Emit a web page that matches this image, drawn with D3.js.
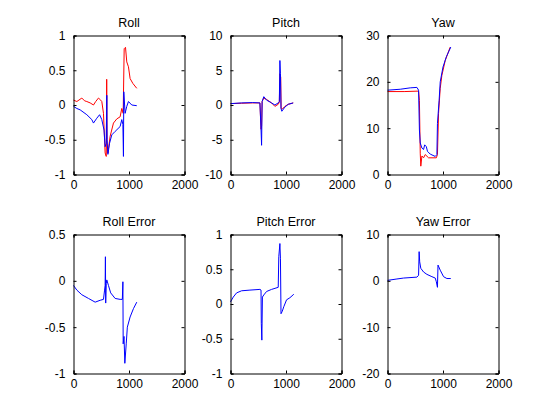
<!DOCTYPE html>
<html>
<head>
<meta charset="utf-8">
<script src="https://cdn.jsdelivr.net/npm/d3@7"></script>
<style>
  body { margin: 0; background: #fff; }
  svg { font-family: "Liberation Sans", Arial, sans-serif; }
  .tick line, .domain { stroke: #000; }
</style>
</head>
<body>
<svg id="chart" width="560" height="420"></svg>
<script>
// x ticks shared by every panel
var xTicks = [0, 1000, 2000];

// Roll
var rollRedT = [0, 60, 150, 200, 240, 300, 360, 400, 450, 490, 510, 540, 570, 590, 598, 605, 620, 660, 720, 780, 840, 870, 895, 913, 937, 960, 990, 1020, 1070, 1140];
var rollRedY = [0.07, 0.05, 0.1, 0.06, 0.05, 0.03, 0.0, 0.05, 0.1, 0.07, 0.05, -0.12, -0.69, -0.74, 0.37, -0.6, -0.69, -0.45, -0.26, -0.2, -0.17, -0.05, -0.12, 0.81, 0.83, 0.62, 0.55, 0.38, 0.31, 0.24];
var rollBlueT = [0, 60, 120, 240, 330, 360, 420, 470, 510, 550, 570, 590, 600, 605, 620, 650, 690, 750, 840, 870, 890, 900, 906, 930, 960, 990, 1050, 1140];
var rollBlueY = [-0.02, -0.05, -0.07, -0.14, -0.21, -0.26, -0.19, -0.14, -0.21, -0.36, -0.6, -0.55, 0.14, -0.5, -0.71, -0.55, -0.43, -0.38, -0.31, -0.21, -0.28, -0.74, 0.19, -0.12, -0.02, 0.05, 0.0, -0.01];
var rollTicks = [-1, -0.5, 0, 0.5, 1];

// Pitch
var pitchRedT = [0, 200, 400, 530, 550, 560, 570, 600, 650, 740, 800, 860, 880, 890, 905, 912, 930, 980, 1040, 1130];
var pitchRedY = [0.2, 0.25, 0.3, 0.3, -3.5, -3.0, 0.5, 1.0, 0.8, 0.3, -0.2, 0.1, 0.4, 4.5, 4.0, -0.5, -0.6, -0.2, 0.1, 0.3];
var pitchBlueT = [0, 200, 400, 530, 550, 560, 570, 600, 650, 740, 800, 860, 880, 890, 900, 910, 925, 980, 1040, 1130];
var pitchBlueY = [0.2, 0.3, 0.35, 0.3, -3.5, -5.8, 0.5, 1.2, 0.7, 0.3, 0.0, 0.3, 0.5, 6.4, 4.5, -0.5, -0.9, -0.3, 0.1, 0.3];
var pitchTicks = [-10, -5, 0, 5, 10];

// Yaw
var yawRedT = [0, 300, 560, 575, 590, 600, 620, 650, 680, 740, 880, 900, 920, 950, 980, 1040, 1130];
var yawRedY = [17.9, 17.9, 18.0, 16, 4.6, 1.8, 4.0, 3.6, 4.3, 3.6, 3.6, 4.3, 13.2, 18.6, 21.4, 24.6, 27.5];
var yawBlueT = [0, 230, 410, 530, 560, 575, 590, 620, 650, 670, 700, 720, 770, 860, 890, 900, 930, 950, 1000, 1060, 1140];
var yawBlueY = [18.2, 18.4, 18.7, 18.8, 18.2, 9.6, 6.8, 5.7, 5.4, 6.4, 6.0, 5.0, 4.4, 3.9, 4.3, 11, 16, 20, 23.2, 25.4, 27.5];
var yawTicks = [0, 10, 20, 30];

// Roll Error
var rollErrT = [0, 60, 150, 270, 390, 480, 540, 560, 570, 575, 580, 590, 600, 630, 670, 750, 840, 880, 890, 895, 910, 925, 950, 970, 1020, 1080, 1140];
var rollErrY = [-0.05, -0.1, -0.15, -0.19, -0.23, -0.21, -0.2, -0.1, -0.05, 0.26, -0.24, -0.03, 0.01, -0.05, -0.13, -0.19, -0.2, -0.2, -0.01, -0.68, -0.6, -0.89, -0.68, -0.5, -0.39, -0.3, -0.23];
var rollErrTicks = [-1, -0.5, 0, 0.5];

// Pitch Error
var pitchErrT = [0, 50, 110, 200, 350, 530, 550, 555, 565, 575, 600, 650, 740, 860, 870, 890, 900, 910, 930, 960, 1010, 1070, 1140];
var pitchErrY = [0.03, 0.1, 0.16, 0.19, 0.2, 0.21, 0.2, -0.28, -0.52, 0.1, 0.13, 0.18, 0.21, 0.24, 0.68, 0.87, 0.65, -0.14, -0.11, -0.04, 0.06, 0.09, 0.14];
var pitchErrTicks = [-1, -0.5, 0, 0.5, 1];

// Yaw Error
var yawErrT = [0, 170, 290, 530, 560, 570, 580, 600, 650, 710, 800, 860, 880, 900, 910, 950, 1010, 1070, 1140];
var yawErrY = [0.1, 0.4, 0.6, 0.8, 1.2, 6.3, 4.1, 2.7, 1.9, 1.4, 0.9, 0.6, -0.2, -1.4, 3.4, 2.3, 0.9, 0.5, 0.5];
var yawErrTicks = [-20, -10, 0, 10];

var pairs = function(t, y) { return t.map(function(d, i) { return [d, y[i]]; }); };

var panels = [
  {title: 'Roll', col: 0, row: 0, ticks: rollTicks, series: [[rollRedT, rollRedY, '#ff0000'], [rollBlueT, rollBlueY, '#0000ff']]},
  {title: 'Pitch', col: 1, row: 0, ticks: pitchTicks, series: [[pitchRedT, pitchRedY, '#ff0000'], [pitchBlueT, pitchBlueY, '#0000ff']]},
  {title: 'Yaw', col: 2, row: 0, ticks: yawTicks, series: [[yawRedT, yawRedY, '#ff0000'], [yawBlueT, yawBlueY, '#0000ff']]},
  {title: 'Roll Error', col: 0, row: 1, ticks: rollErrTicks, series: [[rollErrT, rollErrY, '#0000ff']]},
  {title: 'Pitch Error', col: 1, row: 1, ticks: pitchErrTicks, series: [[pitchErrT, pitchErrY, '#0000ff']]},
  {title: 'Yaw Error', col: 2, row: 1, ticks: yawErrTicks, series: [[yawErrT, yawErrY, '#0000ff']]}
];

var lefts = [73.5, 230.5, 387.5], tops = [35.5, 234.5];
var w = 111, h = 139;
var fmt = function(d) { return String(d); };

var svg = d3.select('#chart');

panels.forEach(function(p) {
  var g = svg.append('g').attr('transform', 'translate(' + lefts[p.col] + ',' + tops[p.row] + ')');
  var x = d3.scaleLinear().domain([0, 2000]).range([0, w]);
  var y = d3.scaleLinear().domain(d3.extent(p.ticks)).range([h, 0]);

  // lines first, axes drawn on top like MATLAB box
  var line = d3.line().x(function(d) { return x(d[0]); }).y(function(d) { return y(d[1]); });
  g.append('g').selectAll('path').data(p.series).enter().append('path')
    .attr('d', function(s) { return line(pairs(s[0], s[1])); })
    .attr('fill', 'none')
    .attr('stroke', function(s) { return s[2]; })
    .attr('stroke-width', 1);

  var ax = [
    g.append('g').attr('transform', 'translate(0,' + h + ')').call(d3.axisBottom(x).tickValues(xTicks).tickSize(-3).tickPadding(6).tickFormat(fmt)),
    g.append('g').call(d3.axisTop(x).tickValues(xTicks).tickSize(-3).tickFormat('')),
    g.append('g').call(d3.axisLeft(y).tickValues(p.ticks).tickSize(-3).tickPadding(8).tickFormat(fmt)),
    g.append('g').attr('transform', 'translate(' + w + ',0)').call(d3.axisRight(y).tickValues(p.ticks).tickSize(-3).tickFormat(''))
  ];
  ax.forEach(function(a) {
    a.selectAll('text').attr('font-size', 12).attr('font-family', '"Liberation Sans", Arial, sans-serif').attr('fill', '#000');
    a.select('.domain').attr('stroke', '#000');
  });

  g.append('text').attr('x', w / 2).attr('y', -9)
    .attr('text-anchor', 'middle').attr('font-size', 12.5).attr('fill', '#000')
    .text(p.title);
});
</script>
</body>
</html>
